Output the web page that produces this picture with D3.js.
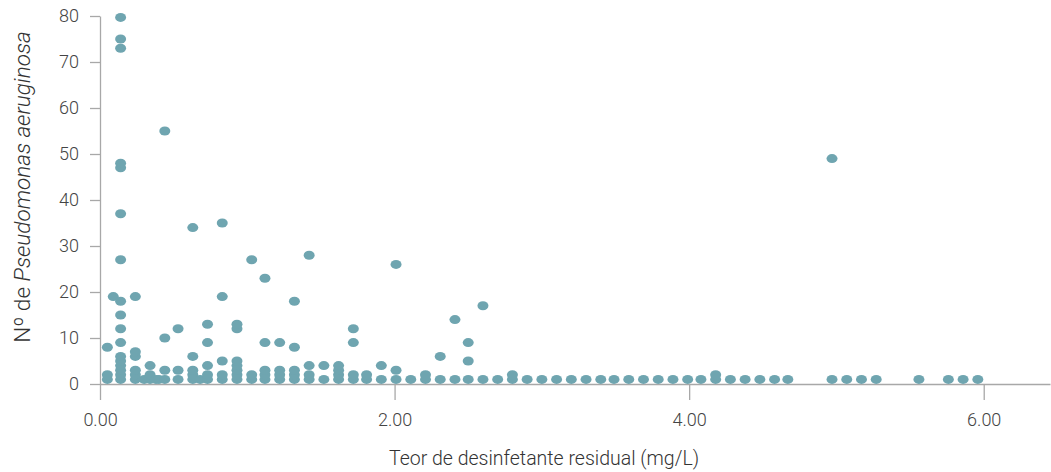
<!DOCTYPE html>
<html>
<head>
<meta charset="utf-8">
<script src="https://cdn.jsdelivr.net/npm/d3@7"></script>
<style>
  body { margin: 0; background: #fff; }
  text { font-family: Roboto, "Noto Sans", sans-serif; font-weight: 300; }
</style>
</head>
<body>
<div id="chart"></div>
<script>
// residual disinfectant (mg/L) for each column of samples
const doses = [0.05, 0.09, 0.14, 0.24, 0.30, 0.34, 0.38, 0.40, 0.44, 0.53,
    0.63, 0.68, 0.73, 0.83, 0.93, 1.03, 1.12, 1.22, 1.32, 1.42,
    1.52, 1.62, 1.72, 1.81, 1.91, 2.01, 2.11, 2.21, 2.31, 2.41,
    2.50, 2.60, 2.70, 2.80, 2.90, 3.00, 3.10, 3.20, 3.30, 3.40,
    3.49, 3.59, 3.69, 3.79, 3.89, 3.99, 4.08, 4.18, 4.28, 4.38,
    4.48, 4.58, 4.67, 4.97, 5.07, 5.17, 5.27, 5.56, 5.76, 5.86, 5.96];

// P. aeruginosa counts found at each dose
const counts = [
    [1, 2, 8], [19],
    [1, 2, 3, 4, 5, 6, 9, 12, 15, 18, 27, 37, 47, 48, 73, 75, 79.7],
    [1, 2, 3, 6, 7, 19], [1], [1, 2, 4], [1], [1], [1, 3, 10, 55], [1, 3, 12],
    [1, 2, 3, 6, 34], [1], [1, 2, 4, 9, 13], [1, 2, 5, 19, 35], [1, 2, 3, 4, 5, 12, 13],
    [1, 2, 27], [1, 2, 3, 9, 23], [1, 2, 3, 9], [1, 2, 3, 8, 18], [1, 2, 4, 28],
    [1, 4], [1, 2, 3, 4], [1, 2, 9, 12], [1, 2], [1, 4], [1, 3, 26], [1], [1, 2], [1, 6], [1, 14],
    [1, 5, 9], [1, 17], [1], [1, 2], [1], [1], [1], [1], [1], [1],
    [1], [1], [1], [1], [1], [1], [1], [1, 2], [1], [1],
    [1], [1], [1], [1, 49], [1], [1], [1], [1], [1], [1], [1]
];

const xTicks = [0, 2, 4, 6];
const yTicks = [0, 10, 20, 30, 40, 50, 60, 70, 80];

const width = 1051, height = 472;
const margin = {top: 16, right: 1, bottom: 88, left: 100};

const svg = d3.select("#chart").append("svg")
    .attr("width", width)
    .attr("height", height);

const x = d3.scaleLinear()
    .domain([0, 6.45])
    .range([margin.left, width - margin.right]);

const y = d3.scaleLinear()
    .domain([0, 80])
    .range([height - margin.bottom, margin.top]);

// flatten to points
let points = [];
doses.forEach((d, i) => {
    counts[i].forEach(c => points.push({dose: d, count: c}));
});

// axes
const xAxis = d3.axisBottom(x)
    .tickValues(xTicks)
    .tickSize(16)
    .tickSizeOuter(0)
    .tickPadding(13)
    .tickFormat(d3.format(".2f"));

const yAxis = d3.axisLeft(y)
    .tickValues(yTicks)
    .tickSize(10)
    .tickSizeOuter(0)
    .tickPadding(11);

const gy = svg.append("g")
    .attr("transform", `translate(${margin.left},0)`)
    .call(yAxis);

const gx = svg.append("g")
    .attr("transform", `translate(0,${y(0)})`)
    .call(xAxis);

[gx, gy].forEach(g => {
    g.select(".domain").attr("stroke", "#a8a8a8").attr("stroke-width", 1.3);
    g.selectAll(".tick line").attr("stroke", "#a8a8a8").attr("stroke-width", 1.3);
    g.selectAll(".tick text")
        .attr("fill", "#444")
        .style("font-size", "18px");
});

// dots
svg.append("g")
    .selectAll("ellipse")
    .data(points)
    .enter().append("ellipse")
    .attr("cx", d => x(d.dose))
    .attr("cy", d => y(d.count))
    .attr("rx", 5.5)
    .attr("ry", 4.5)
    .attr("fill", "#6fa5b0");

// axis titles
svg.append("text")
    .attr("x", 544)
    .attr("y", 465)
    .attr("text-anchor", "middle")
    .attr("fill", "#333")
    .style("font-size", "19.5px")
    .text("Teor de desinfetante residual (mg/L)");

const yTitle = svg.append("text")
    .attr("transform", `translate(30,187) rotate(-90)`)
    .attr("text-anchor", "middle")
    .attr("fill", "#333")
    .style("font-size", "22.5px");
yTitle.append("tspan").text("Nº de ");
yTitle.append("tspan").style("font-style", "italic").text("Pseudomonas aeruginosa");
</script>
</body>
</html>
